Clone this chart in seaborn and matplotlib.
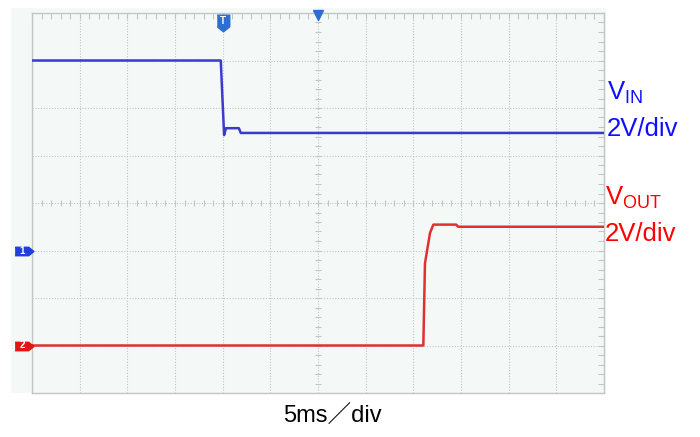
import numpy as np
import pandas as pd
import matplotlib.pyplot as plt
import matplotlib.patches as mpatches
import seaborn as sns

# scope settings
ms_per_div = 5
v_per_div = 2
ch1_pos = 3   # ground level of CH1, divisions above bottom
ch2_pos = 1   # ground level of CH2

# VIN trace breakpoints (time in ms, volts)
vin_t = [0, 19.8, 20.15, 20.35, 21.7, 21.9, 60]
vin_v = [8.0, 8.0, 4.86, 5.15, 5.15, 4.95, 4.95]

# VOUT trace breakpoints (time in ms, volts)
vout_t = [0, 41.05, 41.22, 41.4, 41.75, 42.1, 44.5, 44.7, 60]
vout_v = [0.0, 0.0, 3.46, 3.89, 4.74, 5.09, 5.09, 5.0, 5.0]

vin_df = pd.DataFrame({'t': vin_t, 'div': ch1_pos + np.array(vin_v) / v_per_div})
vout_df = pd.DataFrame({'t': vout_t, 'div': ch2_pos + np.array(vout_v) / v_per_div})

sns.set_style('white')
plt.rcParams['font.family'] = ['Liberation Sans', 'Noto Sans CJK SC', 'DejaVu Sans']
plt.rcParams['mathtext.default'] = 'regular'

W, H = 700, 437
fig = plt.figure(figsize=(7, 4.37), dpi=100)

# screen background
fig.patches.append(mpatches.Rectangle((11 / W, 44 / H), 595 / W, 385 / H,
                                      transform=fig.transFigure,
                                      facecolor='#f4f8f6', edgecolor='none', zorder=-5))

ax = fig.add_axes([32 / W, 44 / H, 572 / W, 380 / H])
ax.set_facecolor('none')
ax.set_zorder(2)

grid_c = '#c2c6c4'
sns.lineplot(data=vin_df, x='t', y='div', ax=ax, color='#3a3ad2', lw=1.8,
             estimator=None, sort=False, zorder=4)
sns.lineplot(data=vout_df, x='t', y='div', ax=ax, color='#e03030', lw=1.8,
             estimator=None, sort=False, zorder=4)

ax.set_xlim(0, 12 * ms_per_div)
ax.set_ylim(0, 8)
ax.set_xticks(np.arange(0, 61, ms_per_div))
ax.set_xticks(np.arange(0, 61, 1), minor=True)
ax.set_yticks(np.arange(0, 9, 1))
ax.set_yticks(np.arange(0, 8.01, 0.2), minor=True)
ax.tick_params(which='both', direction='in', top=True, right=True, length=4,
               width=0.8, color=grid_c, labelbottom=False, labelleft=False)
ax.grid(True, which='major', color=grid_c, ls=(0, (1, 1.5)), lw=0.8)
for s in ax.spines.values():
    s.set_color(grid_c)
    s.set_linewidth(1)
ax.set_xlabel('')
ax.set_ylabel('')

# ticks on the centre lines
ax.plot(np.arange(0, 61, 1), np.full(61, 4.0), ls='none', marker='|', ms=5,
        mew=0.8, color=grid_c, zorder=1)
ax.plot(np.full(41, 30.0), np.arange(0, 8.01, 0.2), ls='none', marker='_', ms=5,
        mew=0.8, color=grid_c, zorder=1)

# trigger markers
shield = [(-0.75, 1), (0.75, 1), (0.75, -0.4), (0, -1), (-0.75, -0.4)]
ax.plot(20, 7.79, marker=shield, ms=12, color='#2c6fd1', clip_on=False, zorder=5)
ax.text(20, 7.83, 'T', color='white', fontsize=7, fontweight='bold',
        ha='center', va='center', zorder=6)
ax.plot(30, 7.95, marker='v', ms=7, color='#2c6fd1', clip_on=False, zorder=5)

# channel ground markers
flag = [(-1, 0.45), (0.45, 0.45), (1, 0), (0.45, -0.45), (-1, -0.45)]
for pos, col, lab in [(ch1_pos, '#1f3fe0', '1'), (ch2_pos, '#e01515', '2')]:
    ax.plot(-0.89, pos, marker=flag, ms=13.5, color=col, clip_on=False, zorder=5)
    ax.text(-1.0, pos, lab, color='white', fontsize=7, fontweight='bold',
            ha='center', va='center', zorder=6)

# labels
fs = 18.5
fig.text(607 / W, 1 - 100 / H, r'V$_{IN}$', color='#1010ff', fontsize=fs, va='baseline')
fig.text(607 / W, 1 - 136 / H, '2V/div', color='#1010ff', fontsize=fs, va='baseline')
fig.text(605 / W, 1 - 205 / H, r'V$_{OUT}$', color='#ff0000', fontsize=fs, va='baseline')
fig.text(605 / W, 1 - 241 / H, '2V/div', color='#ff0000', fontsize=fs, va='baseline')
fig.text(332 / W, 1 - 423 / H, '5ms／div', color='black', fontsize=17,
         ha='center', va='baseline')

fig.savefig('out.png', dpi=100)
